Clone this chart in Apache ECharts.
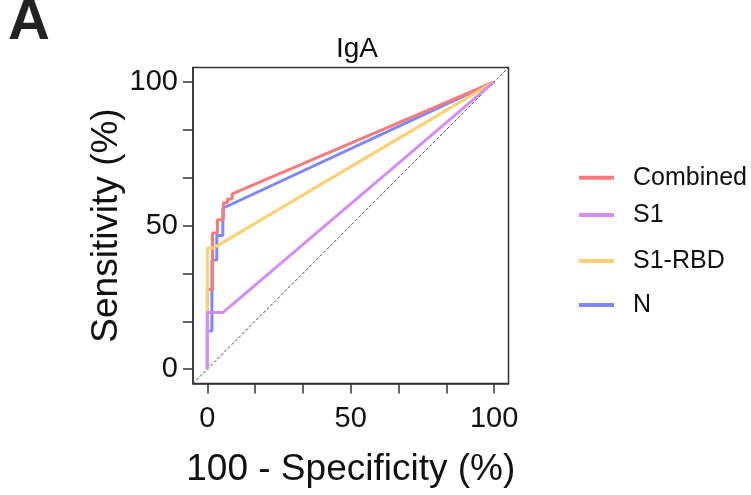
<!DOCTYPE html>
<html>
<head>
<meta charset="utf-8">
<script src="https://cdn.jsdelivr.net/npm/echarts@6/dist/echarts.min.js"></script>
<style>html,body{margin:0;padding:0;background:#fff;}#c{width:751px;height:495px;}</style>
</head>
<body>
<div id="c"></div>
<script>
// ROC curves: [100 - specificity, sensitivity]
const seriesNames = ['Combined', 'S1', 'S1-RBD', 'N'];
const combined = [[0,0],[0,27.7],[1.8,27.7],[1.8,47.4],[3.5,47.4],[3.5,52],[5.6,52],[5.6,57.9],[7,57.9],[7,59.2],[8.7,59.2],[8.7,61],[100,100]];
const s1 = [[0,0],[0,19.7],[5.4,19.7],[100,100]];
const s1rbd = [[0,0],[0,42.2],[2.2,42.2],[100,100]];
const nProt = [[0,0],[0,13.3],[1.6,13.3],[1.6,38],[3.3,38],[3.3,46.5],[5.4,46.5],[5.4,56],[100,100]];
const diagonal = [[-10,-10],[110,110]];
const tickValues = [0, 16.667, 33.333, 50, 66.667, 83.333, 100];
const labelValues = [0, 50, 100];

const colors = {Combined:'#f77a7c', S1:'#d68cf6', 'S1-RBD':'#fdd073', N:'#7c88f7'};
const legendCenters = [177.7, 215, 261, 305];
const font = 'Liberation Sans, Arial, Helvetica, sans-serif';

const chart = echarts.init(document.getElementById('c'), null, {renderer:'canvas'});

function axisCommon(){
  return {
    type:'value', min:-5, max:105,
    splitLine:{show:false},
    axisLine:{show:true, onZero:false, lineStyle:{color:'#333', width:1.5}},
    axisTick:{show:true, length:10, customValues:tickValues, lineStyle:{color:'#333', width:1.5}},
    axisLabel:{customValues:labelValues, color:'#111', fontSize:29, fontFamily:font},
    nameLocation:'middle',
    nameTextStyle:{color:'#111', fontSize:37, fontFamily:font}
  };
}
const xAxis = axisCommon();
xAxis.axisLabel.margin = 21;
xAxis.name = '100 - Specificity (%)';
xAxis.nameGap = 68;
const yAxis = axisCommon();
yAxis.axisLabel.margin = 15;
yAxis.name = 'Sensitivity (%)';
yAxis.nameGap = 65;

const dataMap = {Combined:combined, S1:s1, 'S1-RBD':s1rbd, N:nProt};
const zMap = {N:2, Combined:3, 'S1-RBD':4, S1:5};
const series = seriesNames.map(n => ({
  name:n, type:'line', data:dataMap[n], showSymbol:false, symbol:'none',
  lineStyle:{color:colors[n], width:3}, itemStyle:{color:colors[n]},
  z:zMap[n], animation:false
}));
series.push({
  name:'diag', type:'line', data:diagonal, showSymbol:false, symbol:'none', clip:true,
  lineStyle:{color:'#444', width:1, type:[3,2]}, z:1, animation:false, silent:true
});

const legends = seriesNames.map((n, i) => ({
  data:[n], left:579, top:legendCenters[i]-13, orient:'vertical', padding:0,
  icon:'rect', itemWidth:35, itemHeight:4,
  textStyle:{color:'#111', fontSize:25, fontFamily:font, lineHeight:26, padding:[0,0,0,14]}
}));

chart.setOption({
  animation:false,
  backgroundColor:'#fff',
  title:{text:'IgA', left:352, top:30, textAlign:'center', textStyle:{color:'#111', fontSize:28, fontWeight:'normal', fontFamily:font}},
  grid:{left:193, right:242.5, top:67.5, bottom:111.5, show:true, borderColor:'#333', borderWidth:1.5, containLabel:false},
  legend:legends,
  xAxis:xAxis,
  yAxis:yAxis,
  series:series,
  graphic:[{type:'text', left:8, top:-6, style:{text:'A', fontSize:58, fontWeight:'bold', fontFamily:font, fill:'#222'}}]
});
</script>
</body>
</html>
